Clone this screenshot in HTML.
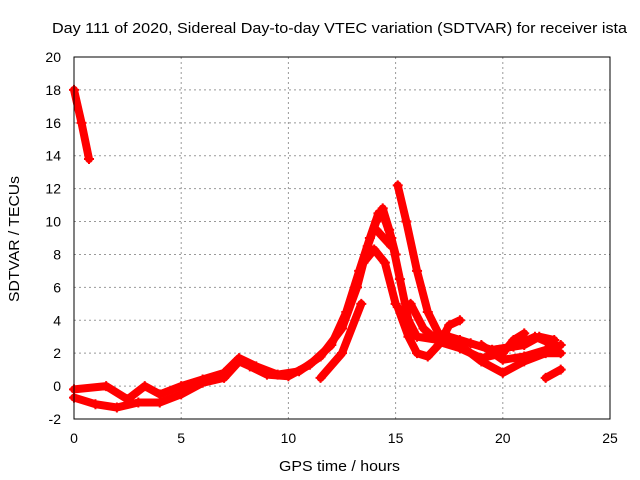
<!DOCTYPE html>
<html><head><meta charset="utf-8"><style>
html,body{margin:0;padding:0;background:#fff;width:640px;height:480px;overflow:hidden}
svg text{font-family:"Liberation Sans",sans-serif;fill:#000}
</style></head><body>
<svg id="chart" width="640" height="480" viewBox="0 0 640 480" xmlns="http://www.w3.org/2000/svg">
<rect x="0" y="0" width="640" height="480" fill="#fff"/>
<g id="grid"></g>
<g id="series"></g>
<rect x="74" y="57" width="536" height="362" fill="none" stroke="#000" stroke-width="1"/>
<g id="ticks"></g>
<text x="52" y="33" font-size="15" textLength="575" lengthAdjust="spacingAndGlyphs">Day 111 of 2020, Sidereal Day-to-day VTEC variation (SDTVAR) for receiver ista</text>
<text x="279" y="471" font-size="15" textLength="121" lengthAdjust="spacingAndGlyphs">GPS time / hours</text>
<text transform="translate(19,302) rotate(-90)" font-size="15" textLength="126" lengthAdjust="spacingAndGlyphs">SDTVAR / TECUs</text>
</svg>
<script>
const xTicks=[0,5,10,15,20,25];
const yTicks=[-2,0,2,4,6,8,10,12,14,16,18,20];
const trackA_t=[0,0.35,0.7];
const trackA_v=[18,16,13.8];
const trackB_t=[0,1,2,3,4,5,6,7,7.7,8.2,9,10,11,12,12.7,13.3,13.8,14.2,14.4,14.8,15.2,15.6,16,17,18,19,20,21,22,22.7];
const trackB_v=[-0.7,-1.1,-1.3,-1.0,-1.0,-0.5,0.2,0.5,1.5,1.2,0.7,0.6,1.3,2.5,4.5,7,9,10.5,10.5,9,6.5,4,3,2.8,2.5,1.5,0.8,1.5,2,2];
const trackC_t=[0,1.5,2.5,3.3,4,5,6,7,7.7,8.5,9.5,10.5,11.5,12.5,13.2,13.7,14.1,14.4,14.7,15];
const trackC_v=[-0.2,0,-0.8,0,-0.5,0,0.4,0.8,1.7,1.2,0.7,0.9,1.8,3.5,6,8.5,10,10.8,9.5,8];
const trackD_t=[11.5,12.5,13.4];
const trackD_v=[0.5,2,5];
const trackE_t=[13.5,14,14.5,15];
const trackE_v=[7.5,8.3,7.5,5];
const trackF_t=[14.1,14.8];
const trackF_v=[9.5,8.5];
const trackG_t=[15.1,15.5,16,16.5,17,17.5,18,18.5,19.5,20.5,21.5,22.4];
const trackG_v=[12.2,10,7,4.5,3.2,3,2.8,2.6,2.2,2.4,3,2.5];
const trackH_t=[15.1,15.6,16,16.5,17,17.5,18];
const trackH_v=[4.8,3,2,1.8,2.5,3.7,4];
const trackI_t=[15.7,16.3,17,18,19,20,20.5,21];
const trackI_v=[5,3.5,2.7,2.3,1.7,2.0,2.8,3.2];
const trackJ_t=[19,20,21,22,22.7];
const trackJ_v=[2.5,1.6,1.8,2.2,2.5];
const trackK_t=[22,22.7];
const trackK_v=[0.5,1.0];
const trackL_t=[19.5,21,21.7,22.4];
const trackL_v=[2.2,2.5,3,2.8];
const tracks=[[trackA_t,trackA_v],[trackB_t,trackB_v],[trackC_t,trackC_v],[trackD_t,trackD_v],[trackE_t,trackE_v],[trackF_t,trackF_v],[trackG_t,trackG_v],[trackH_t,trackH_v],[trackI_t,trackI_v],[trackJ_t,trackJ_v],[trackK_t,trackK_v],[trackL_t,trackL_v]];
const X0=74,X1=610,Y0=419,Y1=57;
function xs(t){return X0+(t-0)/(25-0)*(X1-X0);}
function ys(v){return Y0-(v+2)/(22)*(Y0-Y1);}
const NS="http://www.w3.org/2000/svg";
const grid=document.getElementById('grid'),ticks=document.getElementById('ticks'),ser=document.getElementById('series');
function mk(tag,attrs,parent){const e=document.createElementNS(NS,tag);for(const k in attrs)e.setAttribute(k,attrs[k]);parent.appendChild(e);return e;}
xTicks.forEach(t=>{const x=xs(t);
 if(t>0&&t<25){const g=mk('line',{x1:x,x2:x,y1:Y1,y2:Y0,stroke:'#999','stroke-dasharray':'2,3'},grid);
 
 }
 const l=mk('text',{x:x,y:Y0+24,'font-size':14,'text-anchor':'middle'},ticks);l.textContent=t;
 
 
});
yTicks.forEach(v=>{const y=ys(v);
 if(v>-2&&v<20){const g=mk('line',{x1:X0,x2:X1,y1:y,y2:y,stroke:'#999','stroke-dasharray':'2,3'},grid);
 
 }
 const l=mk('text',{x:X0-13,y:y+5,'font-size':14,'text-anchor':'end'},ticks);l.textContent=v;
 
 
});
tracks.forEach((tr,i)=>{const [T,V]=tr;
 const pts=T.map((t,j)=>xs(t).toFixed(1)+','+ys(V[j]).toFixed(1)).join(' ');
 const p=mk('polyline',{points:pts,fill:'none',stroke:'#ff0000','stroke-width':8,'stroke-linejoin':'round','stroke-linecap':'round'},ser);
 
 
 T.forEach((t,j)=>{const x=xs(t),y=ys(V[j]);
  const m=mk('path',{d:`M${x-5},${y}H${x+5}M${x},${y-5}V${y+5}`,stroke:'#ff0000','stroke-width':2},ser);
  
  
 });
});
</script>
</body></html>
